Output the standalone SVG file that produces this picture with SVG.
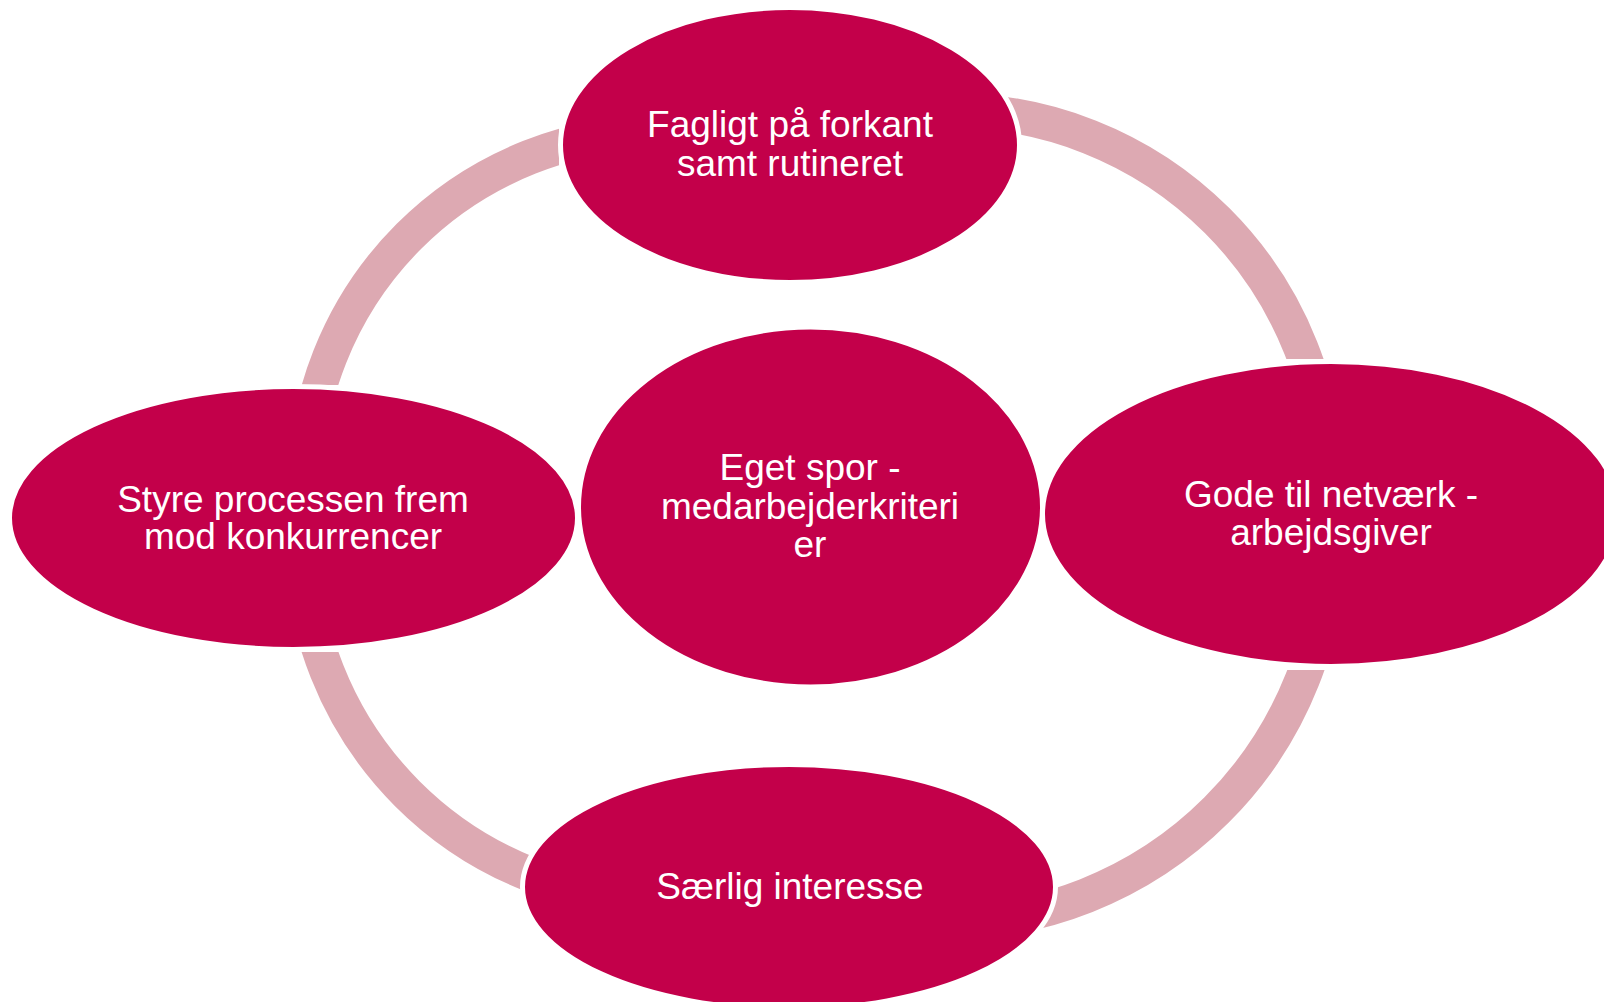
<svg xmlns="http://www.w3.org/2000/svg" width="1604" height="1002" viewBox="0 0 1604 1002">
<style>
.arc{fill:none;stroke:#DDA9B2;stroke-width:35}
.node{fill:#C3004A;stroke:#FFFFFF;stroke-width:5}
.lbl{font-family:"Liberation Sans",Arial,sans-serif;font-size:37px;fill:#FFFFFF;text-anchor:middle}
</style>
<defs>
<clipPath id="clipTL"><rect x="0" y="0" width="559" height="385"/></clipPath>
<clipPath id="clipTR"><rect x="951" y="0" width="653" height="359"/></clipPath>
<clipPath id="clipBR"><rect x="944" y="670" width="660" height="332"/></clipPath>
<clipPath id="clipBL"><rect x="0" y="652" width="662" height="350"/></clipPath>
</defs>
<rect x="0" y="0" width="1604" height="1002" fill="#FFFFFF"/>
<g id="connectors">
<circle class="arc" cx="951.3" cy="486.5" r="376" clip-path="url(#clipTR)"/>
<circle class="arc" cx="944.4" cy="537.7" r="385" clip-path="url(#clipBR)"/>
<circle class="arc" cx="662.7" cy="538.5" r="361" clip-path="url(#clipBL)"/>
<circle class="arc" cx="659.9" cy="487.4" r="355" clip-path="url(#clipTL)"/>
</g>
<g id="node-top">
<ellipse class="node" cx="790" cy="145" rx="229.5" ry="137.5"/>
<text class="lbl" x="790" y="137">Fagligt på forkant<tspan x="790" y="176">samt rutineret</tspan></text>
</g>
<g id="node-right">
<ellipse class="node" cx="1331" cy="514" rx="288.5" ry="152.5"/>
<text class="lbl" x="1331" y="507">Gode til netværk -<tspan x="1331" y="545">arbejdsgiver</tspan></text>
</g>
<g id="node-bottom">
<ellipse class="node" cx="789" cy="887" rx="266.5" ry="122.5"/>
<text class="lbl" x="790" y="899">Særlig interesse</text>
</g>
<g id="node-left">
<ellipse class="node" cx="293.5" cy="518" rx="284" ry="131.5"/>
<text class="lbl" x="293" y="512">Styre processen frem<tspan x="293" y="549">mod konkurrencer</tspan></text>
</g>
<g id="node-center">
<ellipse class="node" cx="810.5" cy="507" rx="232" ry="180"/>
<text class="lbl" x="810" y="480">Eget spor -<tspan x="810" y="519">medarbejderkriteri</tspan><tspan x="810" y="557">er</tspan></text>
</g>
</svg>
